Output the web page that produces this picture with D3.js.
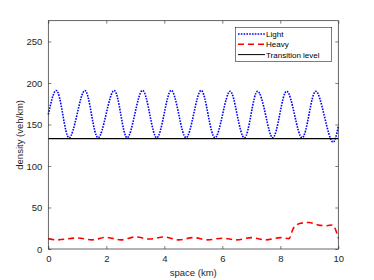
<!DOCTYPE html>
<html><head><meta charset="utf-8">
<script src="https://cdn.jsdelivr.net/npm/d3@7"></script>
<style>body{margin:0;background:#fff}svg{display:block}text{font-family:"Liberation Sans",Arial,sans-serif}</style>
</head><body><svg id="c" width="374" height="280"></svg>
<script>
const lightX = [0,0.27,0.50,0.72,0.99,1.26,1.49,1.72,1.99,2.27,2.50,2.72,2.98,3.25,3.50,3.74,3.99,4.24,4.50,4.75,5.01,5.27,5.51,5.75,6.01,6.27,6.51,6.76,6.99,7.22,7.49,7.74,7.98,8.22,8.49,8.75,8.99,9.23,9.52,9.80,10];
const lightY = [162,191,162,134,162,191,162,134,162,191,162,134,162,191,162,134,162,191,162,134,162,191,162,134,162,190,162,134,162,190,162,134,162,190,162,134,162,190,160,129,148];
const heavyX = [0,0.3,1.0,1.5,2.0,2.5,3.0,3.5,4.0,4.5,5.0,5.5,6.0,6.5,7.0,7.5,8.0,8.3,8.45,8.7,9.0,9.3,9.6,9.8,10];
const heavyY = [12.5,11,13.3,11,14,11,14.5,12,14.5,11,13.7,11,13,11,13.7,11,13.7,12.5,25,31,32,29,28,29,13];
const transitionLevel = 133;
const xTicks = [0,2,4,6,8,10];
const yTicks = [0,50,100,150,200,250];
const legendLabels = ["Light","Heavy","Transition level"];

const svg = d3.select("#c");
const L=48.3,R=338.3,T=20.7,B=249;
const x = d3.scaleLinear().domain([0,10]).range([L,R]);
const y = d3.scaleLinear().domain([0,275]).range([B,T]);
const axCol="#262626";

svg.append("rect").attr("x",L).attr("y",T).attr("width",R-L).attr("height",B-T).attr("fill","#fff");

const line = d3.line().x(d=>x(d[0])).y(d=>y(d[1]));
svg.append("path").datum(lightX.map((v,i)=>[v,lightY[i]]))
  .attr("d",line.curve(d3.curveNatural)).attr("fill","none").attr("stroke","#0000ff")
  .attr("stroke-width",1.6).attr("stroke-dasharray","1.6,1.2");
svg.append("path").datum(heavyX.map((v,i)=>[v,heavyY[i]]))
  .attr("d",d3.line().x(d=>x(d[0])).y(d=>y(d[1])).curve(d3.curveMonotoneX)).attr("fill","none").attr("stroke","#ff0000")
  .attr("stroke-width",1.6).attr("stroke-dasharray","6,4");
svg.append("line").attr("x1",x(0)).attr("x2",x(10)).attr("y1",y(transitionLevel)).attr("y2",y(transitionLevel))
  .attr("stroke","#000").attr("stroke-width",1.2);

// axes
const fs=9.5;
const gx=svg.append("g").attr("transform",`translate(0,${B})`).call(d3.axisBottom(x).tickValues(xTicks).tickSize(-3).tickPadding(6).tickFormat(d3.format("d")));
const gxt=svg.append("g").attr("transform",`translate(0,${T})`).call(d3.axisTop(x).tickValues(xTicks).tickSize(-3).tickFormat(""));
const gy=svg.append("g").attr("transform",`translate(${L},0)`).call(d3.axisLeft(y).tickValues(yTicks).tickSize(-3).tickPadding(6).tickFormat(d3.format("d")));
const gyr=svg.append("g").attr("transform",`translate(${R},0)`).call(d3.axisRight(y).tickValues(yTicks).tickSize(-3).tickFormat(""));
[gx,gxt,gy,gyr].forEach(g=>{g.select(".domain").remove();g.selectAll("line").attr("stroke",axCol).attr("stroke-width",0.6);g.selectAll("text").attr("fill",axCol).attr("font-size",fs).attr("font-family","Liberation Sans, Arial, sans-serif");});
svg.append("rect").attr("x",L).attr("y",T).attr("width",R-L).attr("height",B-T).attr("fill","none").attr("stroke",axCol).attr("stroke-width",0.7);

svg.append("text").attr("x",(L+R)/2).attr("y",276).attr("text-anchor","middle").attr("font-size",fs).attr("fill",axCol).text("space (km)");
svg.append("text").attr("transform",`translate(23,${(T+B)/2}) rotate(-90)`).attr("text-anchor","middle").attr("font-size",fs).attr("fill",axCol).text("density (veh/km)");

// legend
const lg=svg.append("g");
lg.append("rect").attr("x",235.3).attr("y",27.3).attr("width",96.4).attr("height",34).attr("fill","#fff").attr("stroke",axCol).attr("stroke-width",0.6);
const styles=[{c:"#0000ff",d:"1.6,1.2"},{c:"#ff0000",d:"6,4"},{c:"#000",d:null}];
legendLabels.forEach((t,i)=>{
  const yy=34+i*10.3;
  const l=lg.append("line").attr("x1",238).attr("x2",265).attr("y1",yy).attr("y2",yy).attr("stroke",styles[i].c).attr("stroke-width",i==2?1:1.6);
  if(styles[i].d) l.attr("stroke-dasharray",styles[i].d);
  lg.append("text").attr("x",266).attr("y",yy+3).attr("font-size",8).attr("fill","#000").text(t);
});
</script></body></html>
